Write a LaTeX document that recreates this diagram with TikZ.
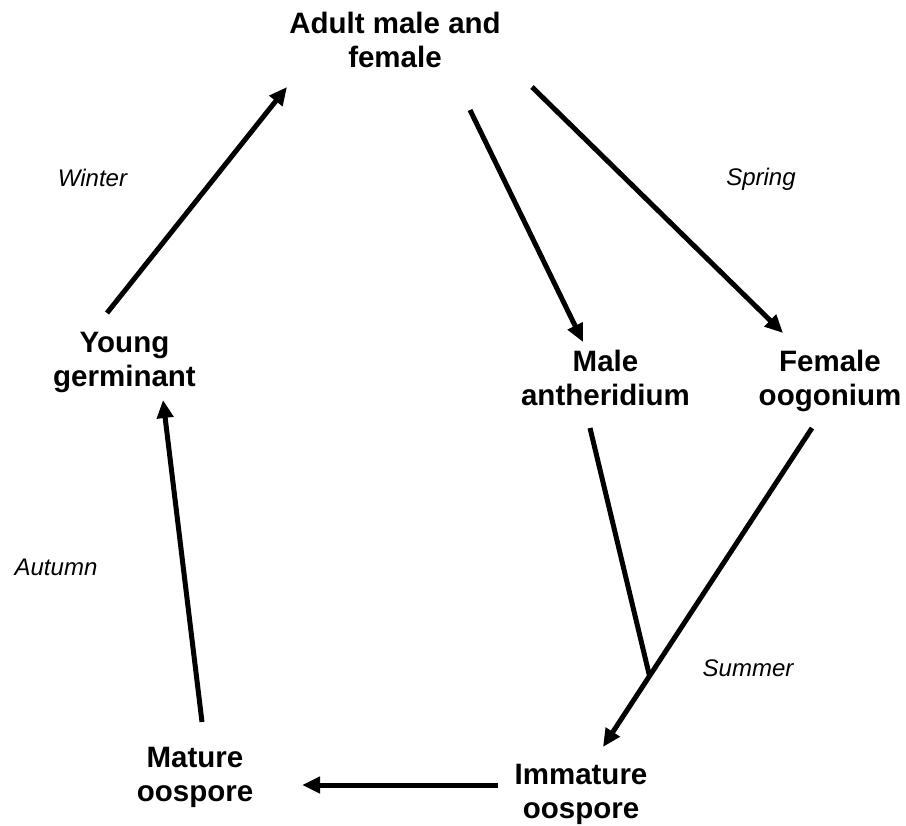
\documentclass[tikz,border=0pt]{standalone}
\usepackage{fontspec}
\setmainfont{Liberation Sans}
\usetikzlibrary{arrows.meta,calc}
\tikzset{
  stage/.style={inner sep=0pt, align=center, font=\fontsize{29.5}{34}\selectfont\bfseries},
  season/.style={inner sep=0pt, anchor=base, font=\fontsize{24}{28}\selectfont\itshape},
  link/.style={line width=5pt},
  arr/.style={link, -{Triangle[length=18pt,width=16pt]}}
}
\begin{document}
\begin{tikzpicture}[x=1pt,y=-1pt]
\useasboundingbox (0,0) rectangle (906,826);
% stages
\node[stage] (adult) at (395,39.5) {Adult male and\\female};
\node[stage] (young) at (124.5,362.5) {Young\\germinant};
\node[stage] (male) at (605.5,377.5) {Male\\antheridium};
\node[stage] (female) at (830,380.5) {Female\\oogonium};
\node[stage] (mature) at (195,777) {Mature\\oospore};
\node[stage] (immature) at (581,794) {Immature\\oospore};
% seasons
\node[season] (winter) at (92.5,187) {Winter};
\node[season] (spring) at (761,186) {Spring};
\node[season] (summer) at (748,676) {Summer};
\node[season] (autumn) at (56,575) {Autumn};
% connector end points
\coordinate (y1) at (107,313);
\coordinate (a1) at (287,87);
\coordinate (a2) at (470,110);
\coordinate (m1) at (583,342);
\coordinate (a3) at (532,87);
\coordinate (f1) at (783,333);
\coordinate (m2) at (590,428);
\coordinate (f2) at (812,428);
\coordinate (i1) at (603,747);
\coordinate (j) at ($(f2)!0.7774!(i1)$);
\coordinate (i2) at (498,785);
\coordinate (mt1) at (302,785);
\coordinate (mt2) at (202,722);
\coordinate (y2) at (163,400);
% connectors
\draw[arr] (y1) -- (a1);
\draw[arr] (a2) -- (m1);
\draw[arr] (a3) -- (f1);
\draw[link] (m2) -- (j);
\draw[arr] (f2) -- (i1);
\draw[arr] (i2) -- (mt1);
\draw[arr] (mt2) -- (y2);
\end{tikzpicture}
\end{document}
